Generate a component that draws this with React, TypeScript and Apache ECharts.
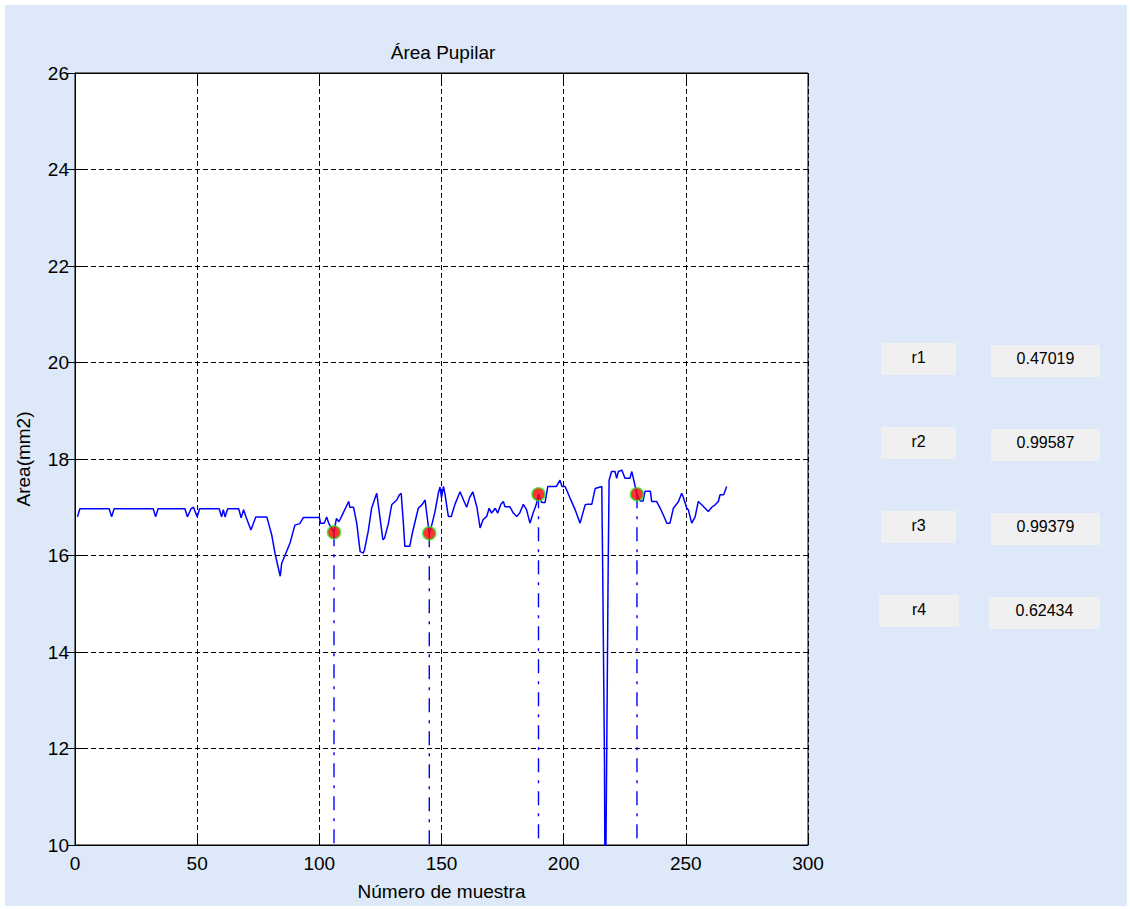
import React, { useEffect, useRef } from "react";
import * as echarts from "echarts";

// ---------- data ----------
const titleText = "Área Pupilar";
const xAxisName = "Número de muestra";
const yAxisName = "Area(mm2)";
const xMin = 0, xMax = 300, xStep = 50;
const yMin = 10, yMax = 26, yStep = 2;

// [sample number, area (mm2)]
const areaPoints: [number, number][] = [
  [1, 16.8], [2, 16.97], [14, 16.97], [15, 16.8], [16, 16.97], [32, 16.97], [33, 16.8], [34, 16.97],
  [45, 16.97], [46, 16.8], [47.5, 16.97], [48.5, 17.0], [50, 16.8], [51, 16.97], [59, 16.97], [60, 16.8],
  [60.7, 16.95], [61.4, 16.8], [62.5, 16.97], [67, 16.97], [68, 16.78], [69, 16.95], [70, 16.8], [72, 16.53],
  [74, 16.8], [78.5, 16.8], [80.5, 16.43], [82, 16.01], [84, 15.57], [84.6, 15.84], [86, 16.01], [88, 16.26],
  [90, 16.63], [92, 16.66], [93.5, 16.79], [100, 16.79], [100.5, 16.67], [102, 16.67], [103, 16.8], [104, 16.65],
  [106, 16.48], [107, 16.77], [108, 16.7], [109, 16.8], [112, 17.12], [112.5, 17.0], [114, 17.0], [115.3, 16.67],
  [116.7, 16.08], [118, 16.05], [118.5, 16.12], [120, 16.5], [121.4, 16.98], [122.8, 17.19], [123.5, 17.29], [124, 17.1],
  [126, 16.33], [126.7, 16.36], [128.3, 16.67], [129.6, 17.05], [131, 17.12], [131.7, 17.15], [132.8, 17.26], [133.5, 17.29],
  [134.4, 16.67], [135, 16.19], [137, 16.19], [138, 16.45], [140.5, 16.98], [142, 17.05], [143.3, 17.15], [144, 16.85],
  [145, 16.46], [146, 16.63], [147.3, 16.9], [148.7, 17.29], [149.4, 17.42], [150, 17.2], [150.8, 17.43], [151.5, 17.25],
  [152.8, 16.81], [154, 16.81], [155.5, 17.06], [157.6, 17.32], [159, 17.15], [160.3, 17.0], [161.5, 17.2], [162.8, 17.32],
  [164.5, 17.0], [165.8, 16.57], [167, 16.74], [168.5, 16.81], [169.5, 16.98], [170.5, 16.88], [172, 16.98], [173, 16.88],
  [174.3, 17.06], [175.3, 17.12], [176, 17.01], [178, 17.01], [179.4, 16.88], [180.8, 16.81], [182, 16.88], [183.5, 17.06],
  [184.8, 16.95], [186.2, 16.67], [187.5, 16.88], [188.8, 17.06], [189.7, 17.27], [191, 17.1], [192.4, 17.1], [193.5, 17.43],
  [197, 17.43], [198.5, 17.56], [199.3, 17.43], [200.6, 17.43], [202.6, 17.19], [204.7, 16.95], [206.7, 16.67], [208.8, 17.05],
  [209.5, 17.06], [211.5, 17.06], [212.9, 17.39], [215.6, 17.43], [216, 15.57], [216.7, 11.8], [217, 8], [217.6, 11.8],
  [218.2, 15.67], [218.6, 17.56], [219.6, 17.74], [221, 17.74], [221.7, 17.6], [222.4, 17.74], [223.8, 17.77], [225.1, 17.6],
  [227.1, 17.6], [227.9, 17.74], [230, 17.27], [231.3, 17.13], [232.5, 17.13], [233.3, 17.33], [235.5, 17.33], [236, 17.12],
  [238, 17.12], [239.5, 16.98], [240.8, 16.84], [242.2, 16.67], [243.5, 16.67], [244.9, 16.98], [246, 17.05], [247, 17.12],
  [248.3, 17.29], [249, 17.2], [250.4, 16.98], [251, 16.95], [252.4, 16.67], [253.8, 16.8], [255.1, 17.12], [256.5, 17.05],
  [257.9, 16.98], [259.2, 16.91], [260.6, 17.0], [262, 17.05], [263.3, 17.12], [264, 17.26], [265.5, 17.26], [266.7, 17.43],
];

const peakX = [106, 145, 189.7, 230];
const peakY = [16.48, 16.46, 17.27, 17.27];

const corrLabels = ["r1", "r2", "r3", "r4"];
const corrValues = ["0.47019", "0.99587", "0.99379", "0.62434"];

// ---------- layout (page coordinates) ----------
const OX = 5, OY = 5;
const CW = 1122, CH = 901;
const FONT = "Liberation Sans, Arial, sans-serif";
const BG = "#dde9f8";
const PLOT = { left: 75, top: 73, right: 808, bottom: 848 };
const labelBoxX = [881, 881, 881, 879];
const labelBoxW = [75, 75, 75, 80];
const valueBoxX = [991, 991, 991, 989];
const valueBoxW = [109, 109, 109, 111];
const boxTop0 = 343, boxStep = 84, boxH = 32;

export default function App() {
  const ref = useRef<HTMLDivElement>(null);

  useEffect(() => {
    if (!ref.current) return;
    const chart = echarts.init(ref.current, null, { renderer: "svg" });

    const panelGraphics: any[] = [];
    corrLabels.forEach((lab, i) => {
      const ly = boxTop0 + i * boxStep - OY;
      const vy = ly + 2;
      panelGraphics.push({
        type: "rect",
        shape: { x: labelBoxX[i] - OX, y: ly, width: labelBoxW[i], height: boxH },
        style: { fill: "#f0f0f0" },
      });
      panelGraphics.push({
        type: "rect",
        shape: { x: valueBoxX[i] - OX, y: vy, width: valueBoxW[i], height: boxH },
        style: { fill: "#f0f0f0" },
      });
      panelGraphics.push({
        type: "text",
        x: labelBoxX[i] - OX + labelBoxW[i] / 2,
        y: ly + 14,
        style: { text: lab, fill: "#000", font: `16px ${FONT}`, textAlign: "center", textVerticalAlign: "middle" },
      });
      panelGraphics.push({
        type: "text",
        x: valueBoxX[i] - OX + valueBoxW[i] / 2,
        y: vy + 13,
        style: { text: corrValues[i], fill: "#000", font: `16px ${FONT}`, textAlign: "center", textVerticalAlign: "middle" },
      });
    });

    const axisCommon = {
      axisLine: { show: true, lineStyle: { color: "#000", width: 1 } },
      axisTick: { show: true, inside: true, length: 8, lineStyle: { color: "#000" } },
    };

    const dropSeries = peakX.map((x, i) => ({
      type: "line",
      data: [[x, peakY[i]], [x, yMin]],
      showSymbol: false,
      symbol: "none",
      lineStyle: { color: "#0000ff", width: 1.4, type: [14, 8, 3, 8] },
      z: 3,
      silent: true,
    }));

    chart.setOption({
      animation: false,
      backgroundColor: BG,
      title: {
        text: titleText,
        left: 438 - OX,
        top: 38 - OY,
        textAlign: "center",
        textStyle: { fontFamily: FONT, fontSize: 19, fontWeight: "normal", color: "#000" },
      },
      grid: {
        left: PLOT.left - OX,
        top: PLOT.top - OY,
        width: PLOT.right - PLOT.left,
        height: PLOT.bottom - PLOT.top,
        show: true,
        backgroundColor: "#ffffff",
        borderColor: "#000",
        borderWidth: 1,
      },
      xAxis: [
        {
          type: "value",
          min: xMin,
          max: xMax,
          interval: xStep,
          position: "bottom",
          ...axisCommon,
          axisLabel: { fontFamily: FONT, fontSize: 19, color: "#000", margin: 9 },
          splitLine: { show: true, lineStyle: { color: "#000", type: [5, 3], width: 1 } },
          name: xAxisName,
          nameLocation: "middle",
          nameGap: 37,
          nameTextStyle: { fontFamily: FONT, fontSize: 19, color: "#000" },
        },
        {
          type: "value",
          min: xMin,
          max: xMax,
          interval: xStep,
          position: "top",
          ...axisCommon,
          axisLabel: { show: false },
          splitLine: { show: false },
        },
      ],
      yAxis: [
        {
          type: "value",
          min: yMin,
          max: yMax,
          interval: yStep,
          position: "left",
          ...axisCommon,
          axisLabel: { fontFamily: FONT, fontSize: 19, color: "#000", margin: 6 },
          splitLine: { show: true, lineStyle: { color: "#000", type: [5, 3], width: 1 } },
          name: yAxisName,
          nameLocation: "middle",
          nameRotate: 90,
          nameGap: 42,
          nameTextStyle: { fontFamily: FONT, fontSize: 19, color: "#000" },
        },
        {
          type: "value",
          min: yMin,
          max: yMax,
          interval: yStep,
          position: "right",
          ...axisCommon,
          axisLabel: { show: false },
          splitLine: { show: false },
        },
      ],
      series: [
        {
          type: "line",
          data: areaPoints,
          showSymbol: false,
          symbol: "none",
          clip: true,
          lineStyle: { color: "#0000ff", width: 1.5 },
          z: 4,
        },
        ...dropSeries,
        {
          type: "scatter",
          data: peakX.map((x, i) => [x, peakY[i]]),
          symbol: "circle",
          symbolSize: 13,
          itemStyle: { color: "#ff0000", borderColor: "#22ee22", borderWidth: 1.5 },
          z: 5,
        },
      ],
      graphic: panelGraphics,
    });

    return () => chart.dispose();
  }, []);

  return (
    <div style={{ position: "absolute", left: 0, top: 0, width: 1130, height: 909, background: "#ffffff" }}>
      <div ref={ref} style={{ position: "absolute", left: OX, top: OY, width: CW, height: CH }} />
    </div>
  );
}
